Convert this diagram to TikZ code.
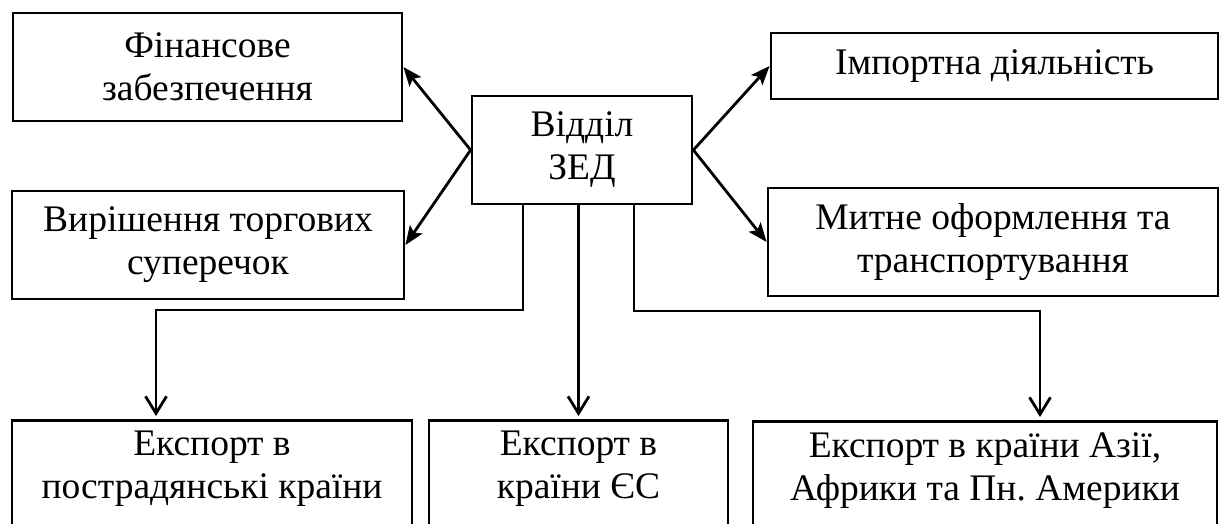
\documentclass[tikz,border=0pt]{standalone}
\usepackage{fontspec}
\setmainfont{Liberation Serif}
\usetikzlibrary{arrows.meta,calc}
\begin{document}
\begin{tikzpicture}[x=1pt,y=-1pt,
  box/.style={draw, line width=2.8pt, align=center, inner sep=0pt, font=\fontsize{37.5}{43}\selectfont},
  diag/.style={line width=2.8pt, -{Stealth[length=19pt,width=15pt,inset=4pt]}},
  down/.style={line width=2.8pt, shorten >=3pt, -{Straight Barb[length=17pt,width=21pt]}}]
\useasboundingbox (0,0) rectangle (1224,523);
\node[box, minimum width=389pt, minimum height=108pt] (fin) at (207.5,67) {Фінансове\\забезпечення};
\node[box, minimum width=392pt, minimum height=108pt] (vyr) at (208,245) {Вирішення торгових\\суперечок};
\node[box, minimum width=220pt, minimum height=108pt] (zed) at (582,150) {Відділ\\ЗЕД};
\node[box, minimum width=447pt, minimum height=66pt] (imp) at (994.5,66) {Імпортна діяльність};
\node[box, minimum width=450pt, minimum height=108pt] (myt) at (993,242) {Митне оформлення та\\транспортування};
\node[box, anchor=north, minimum width=400pt, inner ysep=11pt, text depth=40pt] (b1) at (212,419) {Експорт в\\пострадянські країни};
\node[box, anchor=north, minimum width=299pt, inner ysep=11pt, text depth=40pt] (b2) at (578.5,419) {Експорт в\\країни ЄС};
\node[box, anchor=north, minimum width=464pt, inner ysep=11pt, text depth=40pt] (b3) at (985,420) {Експорт в країни Азії,\\Африки та Пн.\ Америки};
\draw[diag] (zed.west) -- (fin.east);
\draw[diag] (zed.west) -- (vyr.east);
\draw[diag] (zed.east) -- (imp.west);
\draw[diag] (zed.east) -- (myt.west);
\coordinate (k1) at (523,310);
\coordinate (k2) at (156,310);
\coordinate (k3) at (634,311);
\coordinate (k4) at (1040,311);
\draw[down] (zed.south -| k1) -- (k1) -- (k2) -- (k2 |- b1.north);
\draw[down] (zed.south -| b2.north) -- (b2.north);
\draw[down] (zed.south -| k3) -- (k3) -- (k4) -- (k4 |- b3.north);
\end{tikzpicture}
\end{document}
